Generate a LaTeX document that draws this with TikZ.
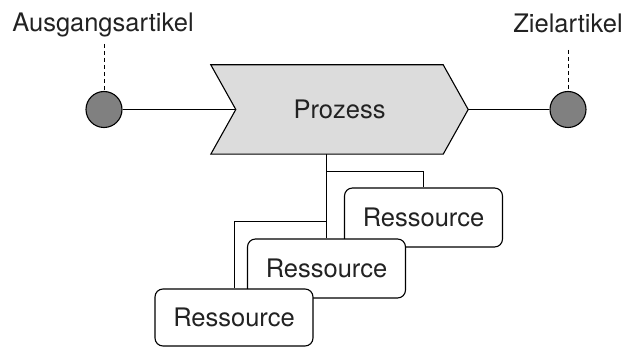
\documentclass[tikz,border=0pt]{standalone}
\usepackage{fontspec}
\setmainfont{TeX Gyre Heros}
\usetikzlibrary{calc,backgrounds}
\definecolor{procfill}{HTML}{DCDCDC}
\definecolor{dotfill}{HTML}{808080}
\definecolor{txt}{HTML}{222222}
\begin{document}
\begin{tikzpicture}[x=1pt,y=-1pt,
  every node/.style={font=\fontsize{25.5}{30}\selectfont, text=txt},
  lbl/.style={anchor=base, inner sep=0pt},
  dot/.style={circle, draw, line width=1.1pt, fill=dotfill, minimum size=36pt, inner sep=0pt},
  res/.style={draw, line width=1.1pt, fill=white, rounded corners=8pt, minimum width=158pt, minimum height=59pt, inner sep=0pt},
  conn/.style={line width=1pt},
  trunk/.style={line width=1.6pt},
  dashconn/.style={line width=1pt, dash pattern=on 4pt off 3pt}]
\useasboundingbox (0,0) rectangle (631,347);
% labels
\node[lbl] (la) at (103,32) {Ausgangsartikel};
\node[lbl] (lz) at (568,33) {Zielartikel};
\coordinate (da) at (104,44);
\coordinate (dz) at (568,50);
% circles
\node[dot] (ca) at (104,109.5) {};
\node[dot] (cz) at (568,109.5) {};
% process
\node[minimum width=257pt, minimum height=89pt, inner sep=0pt] (proc) at (339.5,109.5) {};
\coordinate (notch) at ($(proc.west)+(25,0)$);
\draw[line width=1.1pt, line join=miter, fill=procfill] (proc.north west) -- ($(proc.north east)+(-25,0)$) -- (proc.east) -- ($(proc.south east)+(-25,0)$) -- (proc.south west) -- (notch) -- cycle;
\node[inner sep=0pt] (ptext) at (proc.center) {Prozess};
% resources
\node[res, minimum height=59pt] (r3) at (423.5,217.5) {Ressource};
\node[res, minimum height=59pt] (r2) at (326.5,268.5) {Ressource};
\node[res, minimum height=57pt] (r1) at (234,317.5) {Ressource};
% connectors
\draw[dashconn] (da) -- (ca.north);
\draw[dashconn] (dz) -- (cz.north);
\draw[conn] (ca.east) -- (notch);
\draw[conn] (proc.east) -- (cz.west);
\begin{pgfonlayer}{background}
\coordinate (top) at (proc.south -| r2.north);
\coordinate (b3) at (326.5,172);
\coordinate (b1) at (326.5,222);
\draw[trunk] (top) -- (r2.north);
\draw[conn] (b3) -| (r3.north);
\draw[conn] (b1) -| (r1.north);
\end{pgfonlayer}
\end{tikzpicture}
\end{document}
